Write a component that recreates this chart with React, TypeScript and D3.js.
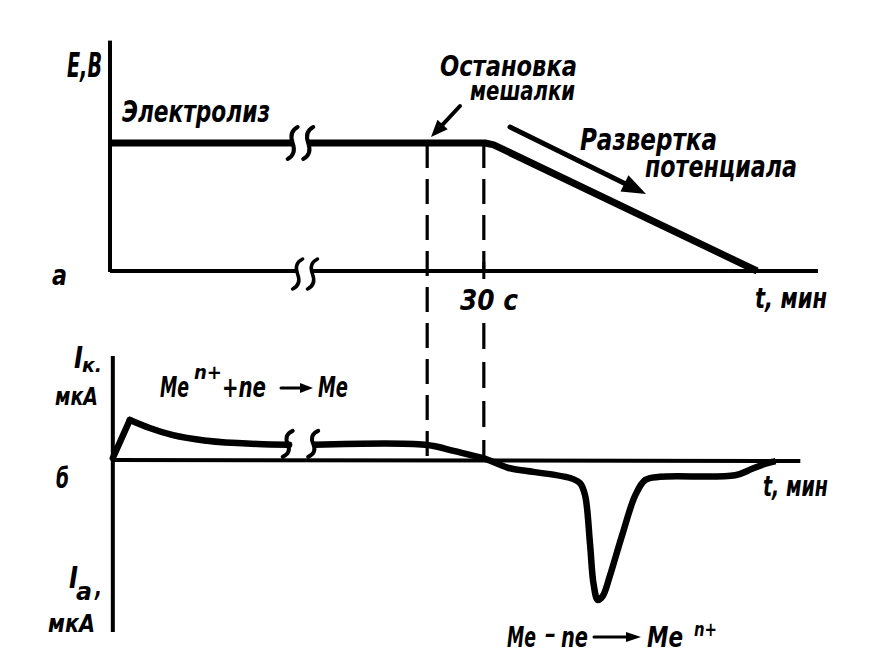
import React from "react";
import * as d3 from "d3";

// ---- data (schematic units) ----
// time axis: 0..100 (arbitrary), potential E: 0..1, current I: arbitrary units (cathodic > 0)
const electrolysisT = [0, 25.8];
const electrolysisE = [1, 1];
const sweepT = [28, 53.0, 54.2, 91.4];
const sweepE = [1, 1, 0.985, 0];

const depositT = [0.4, 2.8, 5.6, 8.9, 13.7, 20.8, 25.3];
const depositI = [0.05, 1.0, 0.8, 0.62, 0.48, 0.4, 0.38];
const strippingT = [28.8, 44.5, 48.7, 53.0, 55.1, 56.3, 65.0, 66.4, 67.1, 67.8, 68.3, 68.9, 69.6, 70.6, 72.3, 74.2, 75.6, 77.7, 88.3, 90.7, 92.5, 94.0];
const strippingI = [0.38, 0.38, 0.22, 0.03, -0.12, -0.2, -0.45, -0.58, -0.88, -2.1, -3.1, -3.5, -3.4, -2.9, -1.9, -0.88, -0.5, -0.42, -0.38, -0.22, -0.1, -0.03];

const markerT = [44.8, 52.8]; // stirrer stop, 30 s later
const breakLineT = [25.8, 28.0];
const breakAxisT = [26.5, 28.6];
const breakCurT = [25.1, 28.7];

const eAxisMax = 1.8;
const tAxisTopMax = 100;
const tAxisBotMax = 97.5;
const iAxisRange = [-4.3, 2.6];

const F = "'Liberation Sans Narrow','DejaVu Sans Condensed','Arial Narrow',sans-serif";

function T({ x, y, size, w, children, anchor }: any) {
  return (
    <text x={x} y={y} fontSize={size} fontFamily={F} fontStyle="italic" fontWeight="bold"
      textLength={w} lengthAdjust="spacingAndGlyphs" textAnchor={anchor || "start"} fill="#000">
      {children}
    </text>
  );
}

function S({ x, y, size, w, children }: any) {
  return (
    <tspan x={x} y={y} fontSize={size} textLength={w} lengthAdjust="spacingAndGlyphs">{children}</tspan>
  );
}

function Arrow({ x1, y1, x2, y2, w, hl, hw }: any) {
  const a = Math.atan2(y2 - y1, x2 - x1);
  const bx = x2 - hl * Math.cos(a), by = y2 - hl * Math.sin(a);
  const px = -Math.sin(a) * hw, py = Math.cos(a) * hw;
  return (
    <g>
      <line x1={x1} y1={y1} x2={bx + Math.cos(a) * 2} y2={by + Math.sin(a) * 2} stroke="#000" strokeWidth={w} strokeLinecap="round" />
      <polygon points={`${x2},${y2} ${bx + px},${by + py} ${bx - px},${by - py}`} fill="#000" />
    </g>
  );
}

function breakPath(x: number, y: number, h: number) {
  return `M${x + 5},${y - h} Q${x - 4},${y - h * 0.7} ${x},${y} Q${x + 4},${y + h * 0.7} ${x - 5},${y + h}`;
}

export default function App() {
  const x = d3.scaleLinear().domain([0, 100]).range([110, 818]);
  const yE = d3.scaleLinear().domain([0, 1]).range([271, 143]);
  const yI = d3.scaleLinear().domain([-4, 2.5]).range([620, 360]);

  const lineE = d3.line<[number, number]>().x(d => x(d[0])).y(d => yE(d[1]));
  const lineLin = d3.line<[number, number]>().x(d => x(d[0])).y(d => yI(d[1]));
  const lineMono = d3.line<[number, number]>().x(d => x(d[0])).y(d => yI(d[1])).curve(d3.curveMonotoneX);
  const lineI = d3.line<[number, number]>().x(d => x(d[0])).y(d => yI(d[1])).curve(d3.curveCatmullRom.alpha(0.5));

  const e1 = electrolysisT.map((t, i) => [t, electrolysisE[i]] as [number, number]);
  const e2 = sweepT.map((t, i) => [t, sweepE[i]] as [number, number]);
  const c1 = depositT.map((t, i) => [t, depositI[i]] as [number, number]);
  const c2 = strippingT.map((t, i) => [t, strippingI[i]] as [number, number]);

  const xBotAxis = x(0.4);
  const txt = { fontFamily: F, fontStyle: "italic", fontWeight: "bold", fill: "#000" } as any;

  return (
    <svg width={874} height={661} style={{ position: "absolute", left: 0, top: 0, background: "#fff" }}>
      <rect width={874} height={661} fill="#fff" />
      {/* ---- top panel ---- */}
      <line x1={x(0)} y1={yE(eAxisMax)} x2={x(0)} y2={yE(0) + 1} stroke="#000" strokeWidth={4} />
      <line x1={x(0)} y1={yE(0)} x2={x(breakAxisT[0])} y2={yE(0)} stroke="#000" strokeWidth={4} />
      <line x1={x(breakAxisT[1])} y1={yE(0)} x2={x(tAxisTopMax)} y2={yE(0)} stroke="#000" strokeWidth={4} />
      {breakAxisT.map((t, i) => (
        <path key={i} d={breakPath(x(t), yE(0) + 3, 15)} fill="none" stroke="#000" strokeWidth={3.5} strokeLinecap="round" />
      ))}
      <path d={lineE(e1) || ""} fill="none" stroke="#000" strokeWidth={7} />
      <path d={lineE(e2) || ""} fill="none" stroke="#000" strokeWidth={7} strokeLinejoin="round" />
      {breakLineT.map((t, i) => (
        <path key={i} d={breakPath(x(t), yE(1), 16)} fill="none" stroke="#000" strokeWidth={4} strokeLinecap="round" />
      ))}
      {/* tick at 30 s */}
      <line x1={x(markerT[1])} y1={yE(0) - 9} x2={x(markerT[1])} y2={yE(0) + 8} stroke="#000" strokeWidth={3} />

      {/* dashed markers */}
      <line x1={x(markerT[0])} y1={yE(1)} x2={x(markerT[0])} y2={yI(0)} stroke="#000" strokeWidth={3.2} strokeDasharray="25 11" />
      <line x1={x(markerT[1])} y1={yE(1)} x2={x(markerT[1])} y2={yE(0)} stroke="#000" strokeWidth={3.2} strokeDasharray="25 11" />
      <line x1={x(markerT[1])} y1={yE(0) + 52} x2={x(markerT[1])} y2={yI(0)} stroke="#000" strokeWidth={3.2} strokeDasharray="26 13" />

      <T x={67} y={77} size={34} w={35}>E,B</T>
      <T x={122} y={122} size={31} w={148}>Электролиз</T>
      <text {...txt}>
        <S x={440} y={76} size={28} w={137}>Остановка</S>
        <S x={470} y={100} size={26} w={105}>мешалки</S>
      </text>
      <text {...txt}>
        <S x={580} y={150} size={31} w={137}>Развертка</S>
        <S x={645} y={177} size={31} w={152}>потенциала</S>
      </text>
      <T x={52} y={285} size={28} w={15}>a</T>
      <T x={460} y={310} size={29} w={58}>30 c</T>
      <T x={755} y={308} size={29} w={72}>t, мин</T>
      <Arrow x1={460} y1={106} x2={431} y2={137} w={4} hl={17} hw={7} />
      <Arrow x1={510} y1={127} x2={646} y2={194} w={5} hl={24} hw={9} />

      {/* ---- bottom panel ---- */}
      <line x1={xBotAxis} y1={yI(iAxisRange[1])} x2={xBotAxis} y2={yI(iAxisRange[0])} stroke="#000" strokeWidth={4} />
      <line x1={xBotAxis} y1={yI(0)} x2={x(tAxisBotMax)} y2={yI(0) + 1} stroke="#000" strokeWidth={4} />
      <path d={lineLin(c1.slice(0, 2)) || ""} fill="none" stroke="#000" strokeWidth={6.5} strokeLinecap="round" />
      <path d={lineMono(c1.slice(1)) || ""} fill="none" stroke="#000" strokeWidth={6.5} strokeLinecap="round" />
      <path d={lineI(c2) || ""} fill="none" stroke="#000" strokeWidth={6.5} strokeLinejoin="round" />
      {breakCurT.map((t, i) => (
        <path key={i} d={breakPath(x(t), yI(0.38) - 1, 13)} fill="none" stroke="#000" strokeWidth={4} strokeLinecap="round" />
      ))}

      <text {...txt}>
        <S x={74} y={368} size={30} w={9}>I</S>
        <S x={82} y={372} size={20} w={20}>к.</S>
        <S x={55} y={405} size={25} w={43}>мкА</S>
      </text>
      <T x={56} y={488} size={29} w={13}>б</T>
      <text {...txt}>
        <S x={69} y={588} size={31} w={9}>I</S>
        <S x={76} y={600} size={24} w={16}>a</S>
        <S x={95} y={596} size={26} w={7}>,</S>
        <S x={48} y={632} size={25} w={47}>мкА</S>
      </text>
      <T x={763} y={496} size={28} w={65}>t, мин</T>

      <text {...txt}>
        <S x={160} y={397} size={28} w={29}>Me</S>
        <S x={194} y={379} size={19} w={28}>n+</S>
        <S x={222} y={397} size={28} w={44}>+ne</S>
        <S x={318} y={397} size={28} w={30}>Me</S>
      </text>
      <Arrow x1={281} y1={388} x2={313} y2={388} w={3} hl={13} hw={5} />

      <text {...txt}>
        <S x={507} y={647} size={28} w={29}>Me</S>
        <S x={545} y={642} size={24} w={11}>–</S>
        <S x={561} y={647} size={28} w={27}>ne</S>
        <S x={647} y={647} size={28} w={36}>Me</S>
        <S x={694} y={636} size={19} w={23}>n+</S>
      </text>
      <Arrow x1={594} y1={637} x2={641} y2={637} w={3} hl={15} hw={5} />
    </svg>
  );
}
